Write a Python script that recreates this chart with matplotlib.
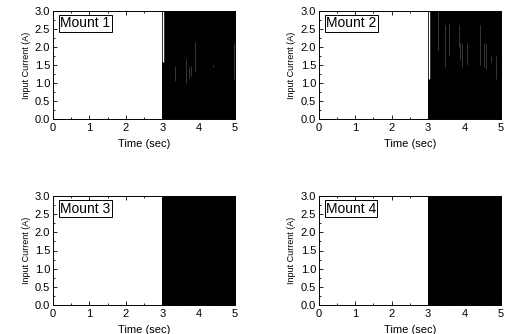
import numpy as np
import matplotlib.pyplot as plt
from matplotlib.ticker import MultipleLocator, FormatStrFormatter

plt.rcParams['font.family'] = ['Liberation Sans', 'DejaVu Sans']

###########################################################
# coarse traces of the PWM input current (drive switches on at 3 s)
titles = ["Mount 1", "Mount 2", "Mount 3", "Mount 4"]
trace_t = [0.0, 3.0, 5.0]
trace_i = [0.0, 3.0, 3.0]

# visible drop-outs inside the switching band: time, low, high, shade
gaps = {
    "Mount 1": [(3.03, 1.57, 3.00, 'w'),
                (3.36, 1.05, 1.47, '0.3'),
                (3.66, 1.01, 1.66, '0.3'),
                (3.72, 1.15, 1.44, '0.3'),
                (3.79, 1.18, 1.48, '0.3'),
                (3.89, 1.31, 2.13, '0.3'),
                (4.39, 1.45, 1.49, '0.3'),
                (4.97, 1.10, 2.10, '0.3')],
    "Mount 2": [(3.03, 1.10, 3.00, 'w'),
                (3.27, 1.92, 3.00, '0.3'),
                (3.48, 1.45, 2.61, '0.3'),
                (3.59, 1.78, 2.65, '0.3'),
                (3.84, 2.00, 2.61, '0.3'),
                (3.89, 1.64, 2.12, '0.3'),
                (3.94, 1.45, 2.12, '0.3'),
                (4.08, 1.50, 2.12, '0.3'),
                (4.42, 1.50, 2.61, '0.3'),
                (4.53, 1.45, 2.12, '0.3'),
                (4.60, 1.40, 2.12, '0.3'),
                (4.73, 1.58, 1.78, '0.3'),
                (4.88, 1.10, 1.75, '0.3')],
    "Mount 3": [],
    "Mount 4": [],
}
###########################################################

fig = plt.figure(figsize=(5.10, 3.34), dpi=100)
positions = [[0.104, 0.644, 0.357, 0.323],
             [0.625, 0.644, 0.357, 0.323],
             [0.104, 0.087, 0.357, 0.326],
             [0.625, 0.087, 0.357, 0.326]]

for name, pos in zip(titles, positions):
    ax = fig.add_axes(pos)
    ax.fill_between(trace_t, trace_i, step='post', color='k', lw=0)
    for t, lo, hi, c in gaps[name]:
        w = 1.0 if c == 'w' else 0.5
        ax.vlines(t, lo, hi, colors=c, lw=w)
    ax.set_xlim(0, 5)
    ax.set_ylim(0, 3)
    ax.xaxis.set_major_locator(MultipleLocator(1))
    ax.xaxis.set_minor_locator(MultipleLocator(0.5))
    ax.yaxis.set_major_locator(MultipleLocator(0.5))
    ax.yaxis.set_minor_locator(MultipleLocator(0.25))
    ax.yaxis.set_major_formatter(FormatStrFormatter('%.1f'))
    ax.tick_params(which='both', direction='in', top=True, right=True,
                   labelsize=8, pad=2, width=0.6)
    ax.tick_params(axis='x', pad=3)
    ax.tick_params(which='major', length=3)
    ax.tick_params(which='minor', length=1.5)
    for s in ax.spines.values():
        s.set_linewidth(0.7)
    ax.set_xlabel('Time (sec)', fontsize=8, labelpad=4)
    ax.set_ylabel('Input Current (A)', fontsize=6.5, labelpad=3)
    ax.text(0.04, 0.95, name, transform=ax.transAxes, fontsize=10,
            va='top', ha='left',
            bbox=dict(boxstyle='square,pad=0.08', fc='w', ec='k', lw=0.7))

plt.savefig('out.png', dpi=100)
